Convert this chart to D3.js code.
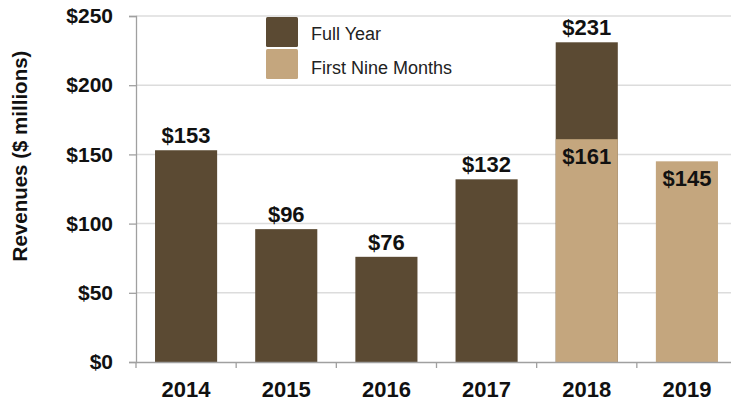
<!DOCTYPE html>
<html>
<head>
<meta charset="utf-8">
<script src="https://cdn.jsdelivr.net/npm/d3@7"></script>
<style>
  html, body { margin: 0; padding: 0; background: white; }
  svg { display: block; font-family: 'Liberation Sans', Arial, sans-serif; }
</style>
</head>
<body>
<svg width="731" height="403"></svg>
<script>
const years = ['2014', '2015', '2016', '2017', '2018', '2019']
const fullYear = [153, 96, 76, 132, 231, null]
const nineMonths = [null, null, null, null, 161, 145]
const yTicks = [0, 50, 100, 150, 200, 250]
const legendLabels = ['Full Year', 'First Nine Months']

const dark = '#5b4a33'
const light = '#c4a67e'

const svg = d3.select('svg')

const x = d3.scaleBand().domain(years).range([136, 737]).padding(0)
const y = d3.scaleLinear().domain([0, 250]).range([362, 16])
const barW = x.bandwidth() * 0.62
const barX = d => x(d) + (x.bandwidth() - barW) / 2

// gridlines
svg.append('g').selectAll('line')
  .data(yTicks.slice(1))
  .join('line')
  .attr('x1', 136).attr('x2', 737)
  .attr('y1', d => y(d)).attr('y2', d => y(d))
  .attr('stroke', '#dcdcdc').attr('stroke-width', 1.5)

// y axis
const yAxis = svg.append('g')
  .attr('transform', 'translate(136,0)')
  .call(d3.axisLeft(y).tickValues(yTicks).tickSize(7).tickPadding(16)
    .tickFormat(d => '$' + d))
yAxis.select('.domain').attr('stroke', '#a0a0a0').attr('stroke-width', 1.3)
yAxis.selectAll('.tick line').attr('stroke', '#a0a0a0').attr('stroke-width', 1.3)
yAxis.selectAll('text')
  .attr('font-size', 21).attr('font-weight', 'bold').attr('fill', '#111')
  .attr('font-family', 'Liberation Sans, Arial, sans-serif')

// legend
const legend = svg.append('g')
legend.append('rect')
  .attr('x', 260).attr('y', 17).attr('width', 230).attr('height', 66)
  .attr('fill', 'white')
const legendColors = [dark, light]
legendLabels.forEach((lab, i) => {
  legend.append('rect')
    .attr('x', 266).attr('y', 17 + i * 32)
    .attr('width', 32).attr('height', 30).attr('rx', 1.5)
    .attr('fill', legendColors[i])
  legend.append('text')
    .attr('x', 311).attr('y', 40 + i * 34)
    .attr('font-size', 18).attr('fill', '#222')
    .text(lab)
})

// full year bars
const fy = years.map((d, i) => ({ year: d, v: fullYear[i] })).filter(d => d.v != null)
svg.append('g').selectAll('rect')
  .data(fy)
  .join('rect')
  .attr('x', d => barX(d.year))
  .attr('width', barW)
  .attr('y', d => y(d.v))
  .attr('height', d => y(0) - y(d.v))
  .attr('fill', dark)

// first nine months bars
const nm = years.map((d, i) => ({ year: d, v: nineMonths[i] })).filter(d => d.v != null)
svg.append('g').selectAll('rect')
  .data(nm)
  .join('rect')
  .attr('x', d => barX(d.year))
  .attr('width', barW)
  .attr('y', d => y(d.v))
  .attr('height', d => y(0) - y(d.v))
  .attr('fill', light)

// x axis
const xAxis = svg.append('g')
  .attr('transform', 'translate(0,362)')
  .call(d3.axisBottom(x).tickSize(0).tickPadding(19))
xAxis.select('.domain').attr('stroke', '#a0a0a0').attr('stroke-width', 1.3)
xAxis.selectAll('text')
  .attr('font-size', 22).attr('font-weight', 'bold').attr('fill', '#111')
  .attr('font-family', 'Liberation Sans, Arial, sans-serif')
xAxis.append('g').selectAll('line')
  .data(years)
  .join('line')
  .attr('x1', d => x(d)).attr('x2', d => x(d))
  .attr('y1', 0).attr('y2', 6)
  .attr('stroke', '#a0a0a0').attr('stroke-width', 1.3)

// value labels
svg.append('g').selectAll('text')
  .data(fy)
  .join('text')
  .attr('x', d => barX(d.year) + barW / 2)
  .attr('y', d => y(d.v) - 7)
  .attr('text-anchor', 'middle')
  .attr('font-size', 22).attr('font-weight', 'bold').attr('fill', '#111')
  .text(d => '$' + d.v)
svg.append('g').selectAll('text')
  .data(nm)
  .join('text')
  .attr('x', d => barX(d.year) + barW / 2)
  .attr('y', d => y(d.v) + 25)
  .attr('text-anchor', 'middle')
  .attr('font-size', 22).attr('font-weight', 'bold').attr('fill', '#111')
  .text(d => '$' + d.v)

// y title
svg.append('text')
  .attr('transform', 'translate(27,156) rotate(-90)')
  .attr('text-anchor', 'middle')
  .attr('font-size', 20.5).attr('font-weight', 'bold').attr('fill', '#111')
  .text('Revenues ($ millions)')
</script>
</body>
</html>
